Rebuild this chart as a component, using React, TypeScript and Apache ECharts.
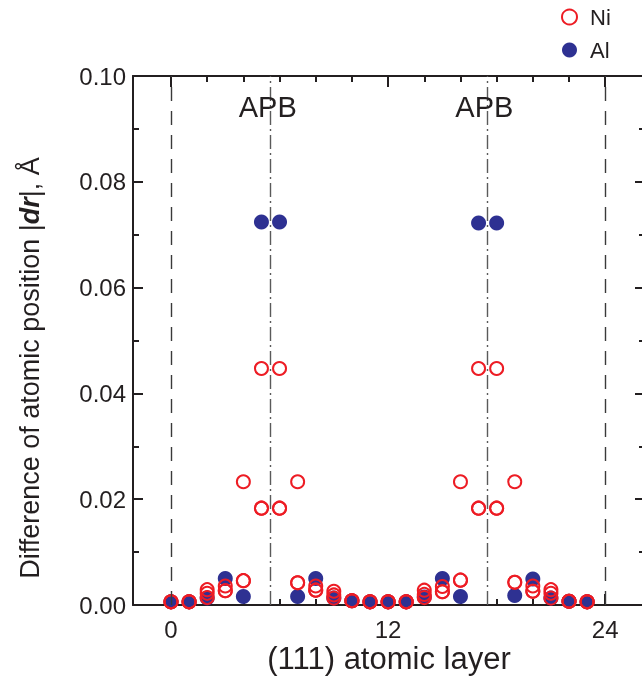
import React, { useEffect, useRef } from "react";
import * as echarts from "echarts";

const layers = [0, 1, 2, 3, 4, 5, 6, 7, 8, 9, 10, 11, 12, 13, 14, 15, 16, 17, 18, 19, 20, 21, 22, 23];
const niHigh = [0.0006, 0.0006, 0.0029, 0.0036, 0.0233, 0.0447, 0.0447, 0.0233, 0.0036, 0.0026, 0.0008, 0.0006, 0.0006, 0.0006, 0.0028, 0.0035, 0.0233, 0.0447, 0.0447, 0.0233, 0.0036, 0.0029, 0.0007, 0.0006];
const niMid = [0.0006, 0.0006, 0.0022, 0.0027, 0.0046, 0.0183, 0.0183, 0.0042, 0.0028, 0.0019, 0.0008, 0.0006, 0.0006, 0.0006, 0.002, 0.0025, 0.0047, 0.0183, 0.0183, 0.0043, 0.0026, 0.0022, 0.0007, 0.0006];
const niLow = [0.0006, 0.0006, 0.0014, 0.0027, 0.0046, 0.0183, 0.0183, 0.0042, 0.0028, 0.0013, 0.0008, 0.0006, 0.0006, 0.0006, 0.0014, 0.0025, 0.0047, 0.0183, 0.0183, 0.0043, 0.0026, 0.0013, 0.0007, 0.0006];
const alValues = [0.0006, 0.0006, 0.0013, 0.005, 0.0016, 0.0724, 0.0724, 0.0016, 0.005, 0.0013, 0.0008, 0.0006, 0.0006, 0.0006, 0.0015, 0.005, 0.0016, 0.0722, 0.0722, 0.0018, 0.0049, 0.0013, 0.0007, 0.0006];
const boundaryLines = [0, 24];
const apbLines = [5.5, 17.5];
const apbLabels = [
  { x: 5.35, y: 0.0942, text: "APB" },
  { x: 17.32, y: 0.0942, text: "APB" },
];
const xLabelValues = [0, 12, 24];
const xMinorTicks = [2, 4, 6, 8, 10, 14, 16, 18, 20, 22];

const FONT = "Liberation Sans, Arial, sans-serif";
const INK = "#231f20";
const RED = "#ed1c24";
const NAVY = "#2e3192";

export default function App() {
  const ref = useRef<HTMLDivElement>(null);
  useEffect(() => {
    if (!ref.current) return;
    const chart = echarts.init(ref.current, undefined, { renderer: "svg" });
    const niData: number[][] = [];
    layers.forEach((l, i) => {
      niData.push([l, niHigh[i]]);
      niData.push([l, niMid[i]]);
      niData.push([l, niLow[i]]);
    });
    const alData = layers.map((l, i) => [l, alValues[i]]);
    const gridPos = { left: 133, top: 76, width: 512, height: 529, outerBoundsMode: "none", containLabel: false };
    const xBase = { type: "value", min: -2.1, max: 26.2, splitLine: { show: false } };
    const yBase = { type: "value", min: 0, max: 0.1, interval: 0.02, splitLine: { show: false } };
    const option: any = {
      animation: false,
      grid: [
        { ...gridPos },
        { ...gridPos },
      ],
      legend: {
        orient: "vertical",
        left: 556,
        top: 0,
        itemWidth: 15,
        itemHeight: 15,
        itemGap: 9,
        textStyle: { fontSize: 22, fontFamily: FONT, color: INK, padding: [0, 0, 0, 8], lineHeight: 24 },
        data: [
          { name: "Ni", icon: "circle", itemStyle: { color: "rgba(0,0,0,0)", borderColor: RED, borderWidth: 2 } },
          { name: "Al", icon: "circle", itemStyle: { color: NAVY, borderWidth: 0 } },
        ],
      },
      xAxis: [
        {
          ...xBase,
          gridIndex: 0,
          position: "bottom",
          axisLine: { onZero: false, lineStyle: { color: INK, width: 2 } },
          axisTick: { inside: true, length: 11, customValues: xLabelValues, lineStyle: { color: INK, width: 2 } },
          axisLabel: { customValues: xLabelValues, fontSize: 24, fontFamily: FONT, color: INK, margin: 12 },
          name: "(111) atomic layer",
          nameLocation: "middle",
          nameGap: 38,
          nameMoveOverlap: false,
          nameTextStyle: { fontSize: 31, fontFamily: FONT, color: INK },
        },
        {
          ...xBase,
          gridIndex: 0,
          position: "top",
          axisLine: { onZero: false, lineStyle: { color: INK, width: 2 } },
          axisTick: { inside: true, length: 11, customValues: xLabelValues, lineStyle: { color: INK, width: 2 } },
          axisLabel: { show: false },
        },
        {
          ...xBase,
          gridIndex: 1,
          position: "bottom",
          axisLine: { show: false, onZero: false },
          axisTick: { inside: true, length: 6, customValues: xMinorTicks, lineStyle: { color: INK, width: 2 } },
          axisLabel: { show: false },
        },
        {
          ...xBase,
          gridIndex: 1,
          position: "top",
          axisLine: { show: false, onZero: false },
          axisTick: { inside: true, length: 6, customValues: xMinorTicks, lineStyle: { color: INK, width: 2 } },
          axisLabel: { show: false },
        },
      ],
      yAxis: [
        {
          ...yBase,
          gridIndex: 0,
          position: "left",
          axisLine: { show: true, onZero: false, lineStyle: { color: INK, width: 2 } },
          axisTick: { show: true, inside: true, length: 10, lineStyle: { color: INK, width: 2 } },
          minorTick: { show: true, splitNumber: 2, length: 6, lineStyle: { color: INK, width: 2 } },
          axisLabel: { fontSize: 24, fontFamily: FONT, color: INK, margin: 7, formatter: (v: number) => v.toFixed(2) },
        },
        {
          ...yBase,
          gridIndex: 0,
          position: "right",
          axisLine: { show: true, onZero: false, lineStyle: { color: INK, width: 2 } },
          axisTick: { show: true, inside: true, length: 10, lineStyle: { color: INK, width: 2 } },
          minorTick: { show: true, splitNumber: 2, length: 6, lineStyle: { color: INK, width: 2 } },
          axisLabel: { show: false },
        },
        { ...yBase, gridIndex: 1, show: false },
      ],
      graphic: [
        {
          type: "text",
          x: 30,
          y: 368,
          rotation: Math.PI / 2,
          style: {
            text: "Difference of atomic position |{b|dr}|, Å",
            fontSize: 27,
            fontFamily: FONT,
            fill: INK,
            align: "center",
            verticalAlign: "middle",
            rich: {
              b: { fontSize: 27, fontFamily: FONT, fontWeight: "bold", fontStyle: "italic", fill: INK },
            },
          },
        },
      ],
      series: [
        {
          name: "Al",
          type: "scatter",
          xAxisIndex: 0,
          yAxisIndex: 0,
          symbol: "circle",
          symbolSize: 15,
          itemStyle: { color: NAVY, opacity: 1 },
          data: alData,
          z: 2,
          markLine: {
            silent: true,
            symbol: "none",
            label: { show: false },
            data: [
              ...boundaryLines.map((v) => ({ xAxis: v, lineStyle: { type: [14, 10], color: "#3a3a3a", width: 1.4 } })),
              ...apbLines.map((v) => ({ xAxis: v, lineStyle: { type: [14, 4, 2, 4], color: "#5a5a5a", width: 1.4 } })),
            ],
          },
          markPoint: {
            silent: true,
            symbol: "rect",
            symbolSize: 1,
            itemStyle: { color: "rgba(0,0,0,0)" },
            label: { show: true, position: "inside", fontSize: 29, fontFamily: FONT, color: INK },
            data: apbLabels.map((a) => ({ coord: [a.x, a.y], value: a.text, label: { formatter: a.text } })),
          },
        },
        {
          name: "Ni",
          type: "scatter",
          xAxisIndex: 0,
          yAxisIndex: 0,
          symbol: "circle",
          symbolSize: 13,
          itemStyle: { color: "rgba(0,0,0,0)", borderColor: RED, borderWidth: 2, opacity: 1 },
          data: niData,
          z: 3,
        },
      ],
    };
    chart.setOption(option);
    return () => chart.dispose();
  }, []);
  return <div ref={ref} style={{ position: "fixed", left: 0, top: 0, width: 642, height: 698 }} />;
}
